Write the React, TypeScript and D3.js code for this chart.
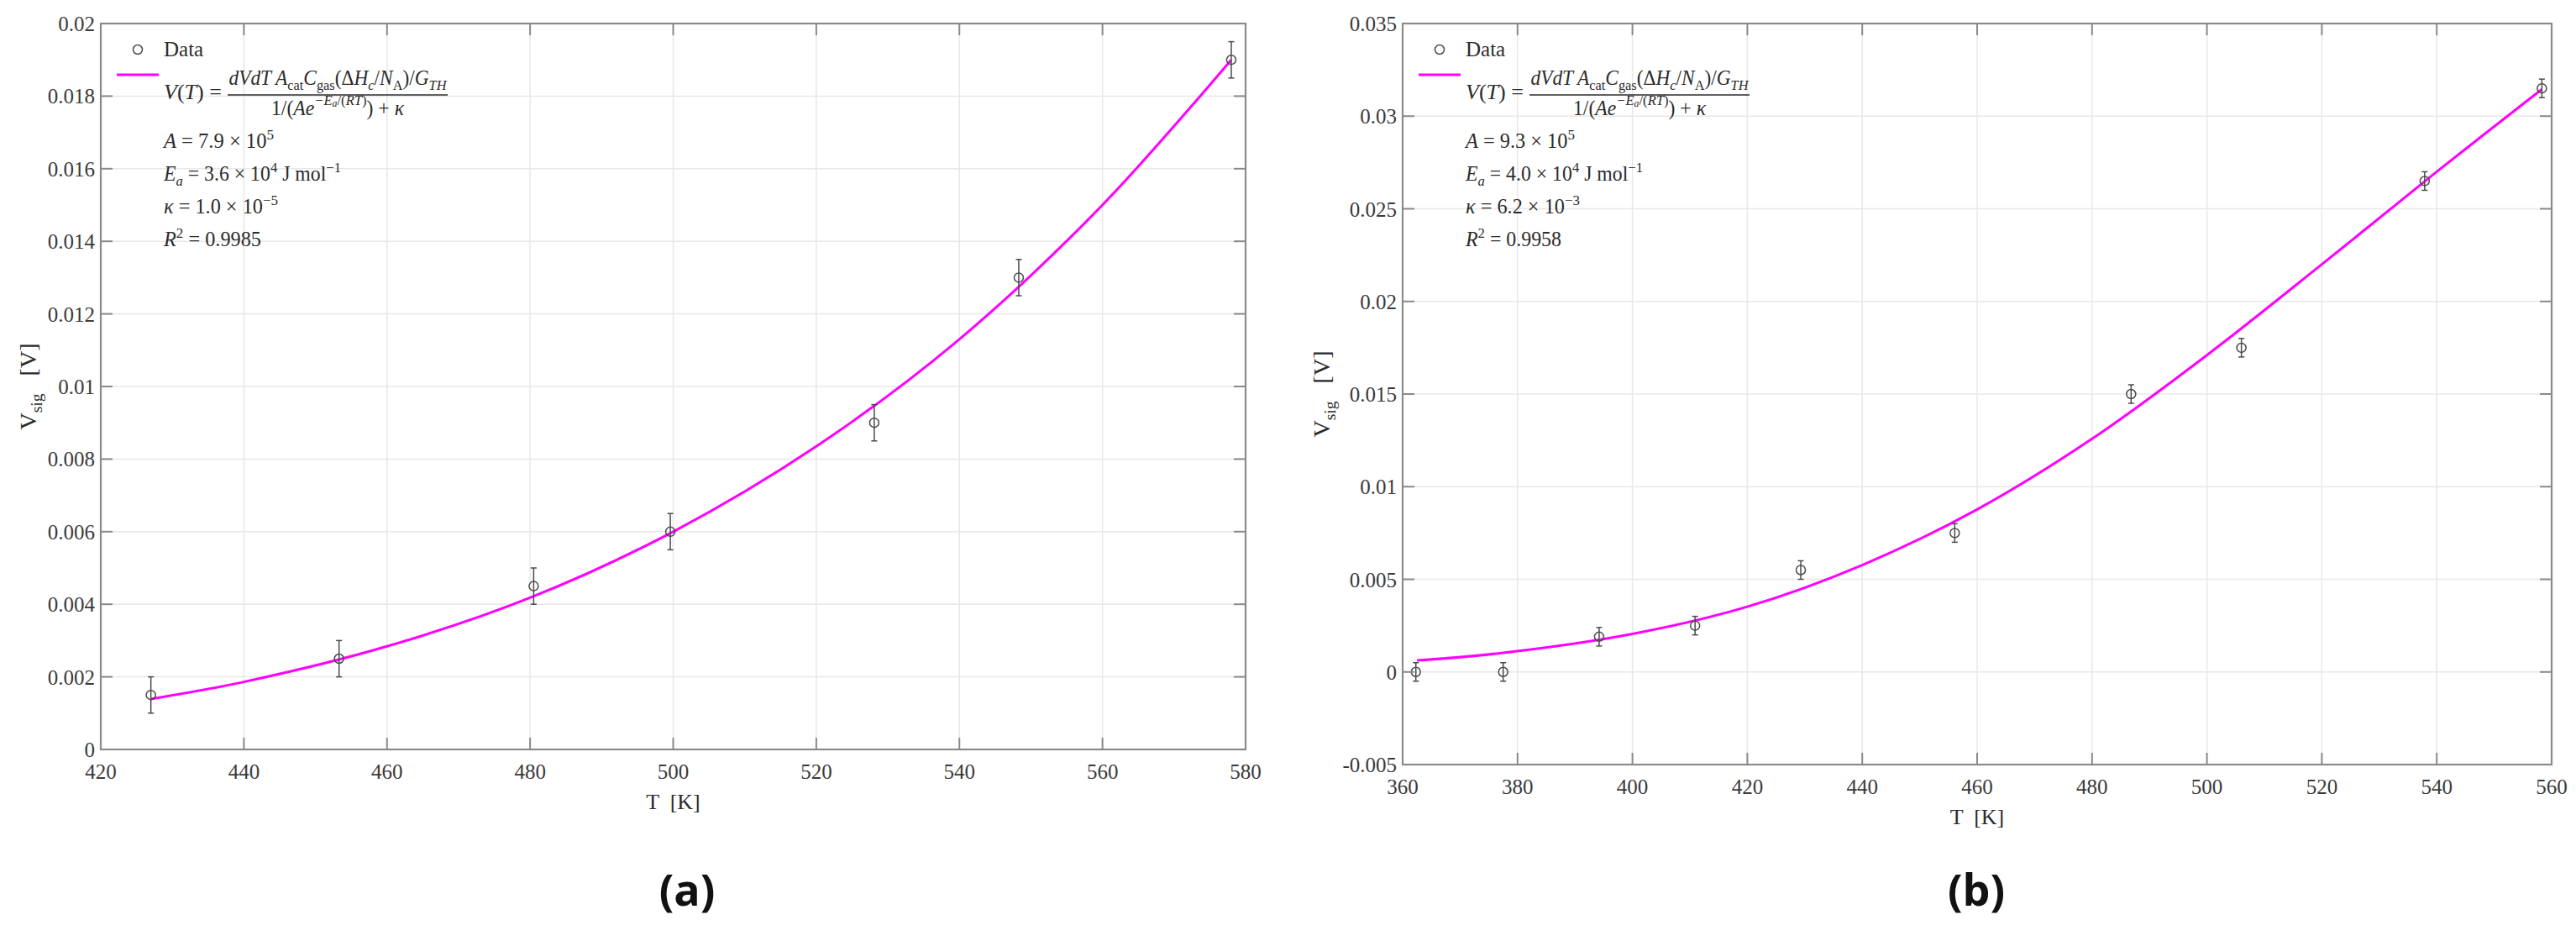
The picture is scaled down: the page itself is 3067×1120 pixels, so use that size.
import React from "react";
import * as d3 from "d3";

// ---------- Panel (a) data ----------
const tempsA = [427, 453.3, 480.5, 499.6, 528.1, 548.3, 578];
const vsigA = [0.0015, 0.0025, 0.0045, 0.006, 0.009, 0.013, 0.019];
const errA = [0.0005, 0.0005, 0.0005, 0.0005, 0.0005, 0.0005, 0.0005];
const fitTempsA = [427, 440, 460, 480, 500, 520, 540, 560, 578];
const fitVsigA = [0.00139, 0.00186, 0.00284, 0.00418, 0.006, 0.00835, 0.0113, 0.015, 0.019];
const xTicksA = [420, 440, 460, 480, 500, 520, 540, 560, 580];
const yTicksA = [0, 0.002, 0.004, 0.006, 0.008, 0.01, 0.012, 0.014, 0.016, 0.018, 0.02];
const yTickLabelsA = ["0", "0.002", "0.004", "0.006", "0.008", "0.01", "0.012", "0.014", "0.016", "0.018", "0.02"];
const paramsA = ["7.9", "3.6", "1.0", "\u22125", "0.9985"];

// ---------- Panel (b) data ----------
const tempsB = [362.3, 377.5, 394.2, 410.9, 429.3, 456.1, 486.8, 506, 537.9, 558.3];
const vsigB = [0, 0, 0.0019, 0.0025, 0.0055, 0.0075, 0.015, 0.0175, 0.0265, 0.0315];
const errB = [0.0005, 0.0005, 0.0005, 0.0005, 0.0005, 0.0005, 0.0005, 0.0005, 0.0005, 0.0005];
const fitTempsB = [362.5, 377.5, 400, 420, 440, 460, 480, 500, 520, 540, 558.3];
const fitVsigB = [0.00062, 0.00103, 0.00205, 0.00352, 0.00577, 0.00877, 0.01258, 0.0171, 0.022, 0.027, 0.03145];
const xTicksB = [360, 380, 400, 420, 440, 460, 480, 500, 520, 540, 560];
const yTicksB = [-0.005, 0, 0.005, 0.01, 0.015, 0.02, 0.025, 0.03, 0.035];
const yTickLabelsB = ["-0.005", "0", "0.005", "0.01", "0.015", "0.02", "0.025", "0.03", "0.035"];
const paramsB = ["9.3", "4.0", "6.2", "\u22123", "0.9958"];

const SERIF = "'Liberation Serif', 'Times New Roman', serif";
const AXIS = "#8a8a8a";
const GRID = "#e8e8e8";
const TXT = "#2b2b2b";

type Seg = { t: string; i?: boolean; s?: number; d?: number };

function Rich({ x, y, segs, size, anchor = "start", rotate = 0, width }: any) {
  let cur = 0;
  return (
    <text
      x={x}
      y={y}
      fontSize={size}
      fontFamily={SERIF}
      fill={TXT}
      textAnchor={anchor}
      transform={rotate ? `rotate(${rotate},${x},${y})` : undefined}
      textLength={width}
      lengthAdjust={width ? "spacingAndGlyphs" : undefined}
      style={{ whiteSpace: "pre" }}
    >
      {segs.map((sg: Seg, k: number) => {
        const target = (sg.d || 0) * size;
        const dy = target - cur;
        cur = target;
        return (
          <tspan key={k} dy={dy} fontSize={(sg.s || 1) * size} fontStyle={sg.i ? "italic" : "normal"}>
            {sg.t}
          </tspan>
        );
      })}
    </text>
  );
}

const SUB = { s: 0.7, d: 0.22 };
const SUP = { s: 0.7, d: -0.42 };

function Panel({ left, right, top, bottom, xDom, yDom, xTicks, yTicks, yLabels, temps, vals, errs, fitT, fitV, params, tag, tagX, yLabelX, widths }: any) {
  const x = d3.scaleLinear().domain(xDom).range([left, right]);
  const y = d3.scaleLinear().domain(yDom).range([bottom, top]);
  const line = d3
    .line<number>()
    .x((_, i) => x(fitT[i]))
    .y((v) => y(v))
    .curve(d3.curveCatmullRom.alpha(0.5));
  const fitPath = line(fitV) || "";
  const tl = 14;
  const lx = left;
  const ty = top;
  const fs = 25;
  const fracCx = lx + 282;
  const numer: Seg[] = [
    { t: "dVdT A", i: true },
    { t: "cat", ...SUB },
    { t: "C", i: true },
    { t: "gas", ...SUB },
    { t: "(\u0394" },
    { t: "H", i: true },
    { t: "c", i: true, ...SUB },
    { t: "/" },
    { t: "N", i: true },
    { t: "A", ...SUB },
    { t: ")/" },
    { t: "G", i: true },
    { t: "TH", i: true, ...SUB },
  ];
  const denom: Seg[] = [
    { t: "1/(" },
    { t: "Ae", i: true },
    { t: "\u2212E", i: true, s: 0.7, d: -0.5 },
    { t: "a", i: true, s: 0.5, d: -0.4 },
    { t: "/(", s: 0.7, d: -0.5 },
    { t: "RT", i: true, s: 0.7, d: -0.5 },
    { t: ")", s: 0.7, d: -0.5 },
    { t: ") + " },
    { t: "\u03ba", i: true },
  ];
  const lines: Seg[][] = [
    [{ t: "A", i: true }, { t: ` = ${params[0]} \u00d7 10` }, { t: "5", ...SUP }],
    [{ t: "E", i: true }, { t: "a", i: true, ...SUB }, { t: ` = ${params[1]} \u00d7 10` }, { t: "4", ...SUP }, { t: " J mol" }, { t: "\u22121", ...SUP }],
    [{ t: "\u03ba", i: true }, { t: ` = ${params[2]} \u00d7 10` }, { t: params[3], ...SUP }],
    [{ t: "R", i: true }, { t: "2", ...SUP }, { t: ` = ${params[4]}` }],
  ];
  const lineYs = [148, 187, 226, 265];
  const midY = (top + bottom) / 2;
  return (
    <g>
      {xTicks.map((t: number) => (
        <line key={"gx" + t} x1={x(t)} x2={x(t)} y1={top} y2={bottom} stroke={GRID} strokeWidth={1.5} />
      ))}
      {yTicks.map((t: number) => (
        <line key={"gy" + t} x1={left} x2={right} y1={y(t)} y2={y(t)} stroke={GRID} strokeWidth={1.5} />
      ))}
      <path d={fitPath} fill="none" stroke="#ff00ff" strokeWidth={3} />
      {temps.map((t: number, i: number) => {
        const cx = x(t);
        const y1 = y(vals[i] + errs[i]);
        const y2 = y(vals[i] - errs[i]);
        return (
          <g key={"d" + i} stroke="#4a4a4a" strokeWidth={1.5} fill="none">
            <line x1={cx} x2={cx} y1={y1} y2={y2} />
            <line x1={cx - 3.5} x2={cx + 3.5} y1={y1} y2={y1} />
            <line x1={cx - 3.5} x2={cx + 3.5} y1={y2} y2={y2} />
            <circle cx={cx} cy={y(vals[i])} r={5.5} />
          </g>
        );
      })}
      <rect x={left} y={top} width={right - left} height={bottom - top} fill="none" stroke={AXIS} strokeWidth={2.2} />
      {xTicks.map((t: number) => (
        <g key={"tx" + t} stroke={AXIS} strokeWidth={2}>
          <line x1={x(t)} x2={x(t)} y1={bottom} y2={bottom - tl} />
          <line x1={x(t)} x2={x(t)} y1={top} y2={top + tl} />
        </g>
      ))}
      {yTicks.map((t: number) => (
        <g key={"ty" + t} stroke={AXIS} strokeWidth={2}>
          <line x1={left} x2={left + tl} y1={y(t)} y2={y(t)} />
          <line x1={right} x2={right - tl} y1={y(t)} y2={y(t)} />
        </g>
      ))}
      {xTicks.map((t: number) => (
        <text key={"lx" + t} x={x(t)} y={bottom + 35} fontSize={25} fontFamily={SERIF} fill="#3a3a3a" textAnchor="middle">
          {t}
        </text>
      ))}
      {yTicks.map((t: number, i: number) => (
        <text key={"ly" + t} x={left - 7} y={y(t) + 9} fontSize={25} fontFamily={SERIF} fill="#3a3a3a" textAnchor="end">
          {yLabels[i]}
        </text>
      ))}
      <text x={(left + right) / 2} y={bottom + 71} fontSize={26} fontFamily={SERIF} fill={TXT} textAnchor="middle" style={{ whiteSpace: "pre" }}>
        {"T  [K]"}
      </text>
      <Rich
        x={yLabelX}
        y={midY}
        size={28}
        anchor="middle"
        rotate={-90}
        segs={[{ t: "V" }, { t: "sig", s: 0.7, d: 0.25 }, { t: "   [V]" }]}
      />
      <circle cx={lx + 44} cy={ty + 31} r={5.5} fill="none" stroke="#4a4a4a" strokeWidth={1.5} />
      <text x={lx + 75} y={ty + 39} fontSize={fs} fontFamily={SERIF} fill={TXT}>
        Data
      </text>
      <line x1={lx + 19} x2={lx + 69} y1={ty + 61} y2={ty + 61} stroke="#ff00ff" strokeWidth={3} />
      <Rich x={lx + 75} y={ty + 90} size={fs} width={widths[0]} segs={[{ t: "V", i: true }, { t: "(" }, { t: "T", i: true }, { t: ") =" }]} />
      <Rich x={fracCx} y={ty + 73} size={fs} anchor="middle" width={widths[1]} segs={numer} />
      <line x1={lx + 151} x2={lx + 413} y1={ty + 85} y2={ty + 85} stroke={TXT} strokeWidth={1.5} />
      <Rich x={fracCx} y={ty + 109} size={fs} anchor="middle" width={widths[2]} segs={denom} />
      {lines.map((sg, k) => (
        <Rich key={"p" + k} x={lx + 75} y={ty + lineYs[k]} size={fs} width={widths[3 + k]} segs={sg} />
      ))}
      <text x={tagX} y={1078} fontSize={52} fontWeight={700} fontFamily="'Open Sans', 'Noto Sans', sans-serif" fill="#111" textAnchor="middle">
        {tag}
      </text>
    </g>
  );
}

export default function App() {
  return (
    <svg width={3067} height={1120} style={{ position: "absolute", left: 0, top: 0, background: "#fff" }}>
      <rect x={0} y={0} width={3067} height={1120} fill="#fff" />
      <Panel
        left={120}
        right={1483}
        top={28}
        bottom={892}
        xDom={[420, 580]}
        yDom={[0, 0.02]}
        xTicks={xTicksA}
        yTicks={yTicksA}
        yLabels={yTickLabelsA}
        temps={tempsA}
        vals={vsigA}
        errs={errA}
        fitT={fitTempsA}
        fitV={fitVsigA}
        params={paramsA}
        tag="(a)"
        tagX={818}
        yLabelX={43}
        widths={[69, 259, 158, 131, 211, 136, 116]}
      />
      <Panel
        left={1670}
        right={3038}
        top={28}
        bottom={910}
        xDom={[360, 560]}
        yDom={[-0.005, 0.035]}
        xTicks={xTicksB}
        yTicks={yTicksB}
        yLabels={yTickLabelsB}
        temps={tempsB}
        vals={vsigB}
        errs={errB}
        fitT={fitTempsB}
        fitV={fitVsigB}
        params={paramsB}
        tag="(b)"
        tagX={2353}
        yLabelX={1583}
        widths={[69, 259, 158, 130, 211, 136, 114]}
      />
    </svg>
  );
}
